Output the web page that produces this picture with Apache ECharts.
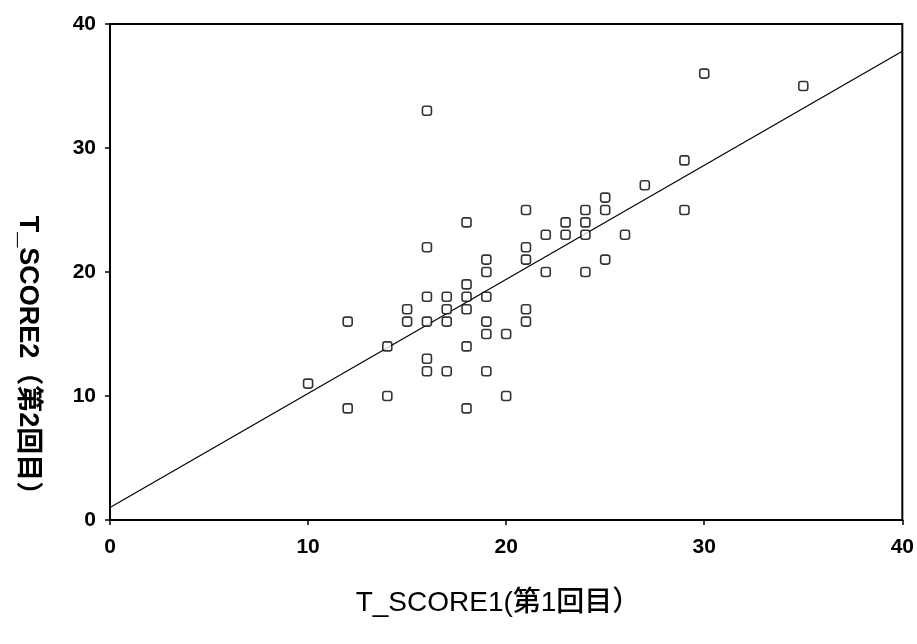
<!DOCTYPE html>
<html>
<head>
<meta charset="utf-8">
<script src="https://cdn.jsdelivr.net/npm/echarts@6/dist/echarts.min.js"></script>
<style>
html,body{margin:0;padding:0;background:#fff;}
#c{width:917px;height:644px;}
</style>
</head>
<body>
<div id="c"></div>
<script>
// Data
const xName = 'T_SCORE1(第1回目）';
const yName = 'T_SCORE2（第2回目）';
const score1 = [10,12,12,14,14,15,15,16,16,16,16,16,16,17,17,17,17,18,18,18,18,18,18,19,19,19,19,19,19,20,20,21,21,21,21,21,22,22,23,23,24,24,24,24,25,25,25,26,27,29,29,30,35];
const score2 = [11,16,9,14,10,17,16,33,22,18,16,13,12,18,17,16,12,24,19,18,17,14,9,21,20,18,16,15,12,15,10,25,22,21,17,16,23,20,24,23,25,24,23,20,26,25,21,23,27,29,25,36,35];
const fitX = [0, 40];
const fitY = [1.0, 37.8];

const points = score1.map((v, i) => [v, score2[i]]);
const fitLine = fitX.map((v, i) => [v, fitY[i]]);

const chart = echarts.init(document.getElementById('c'), null, {renderer: 'canvas'});
const labelStyle = {color: '#000', fontFamily: 'Liberation Sans, Arial, sans-serif', fontSize: 21, fontWeight: 'bold'};
chart.setOption({
  animation: false,
  backgroundColor: '#fff',
  grid: {left: 110, right: 14, top: 24, bottom: 124, show: true, borderColor: '#000', borderWidth: 2, backgroundColor: 'transparent'},
  xAxis: {
    type: 'value', min: 0, max: 40, interval: 10,
    axisLine: {show: true, onZero: false, lineStyle: {color: '#000', width: 2}},
    axisTick: {show: true, length: 5, inside: false, lineStyle: {color: '#000', width: 1.5}},
    splitLine: {show: false},
    axisLabel: Object.assign({margin: 17}, labelStyle)
  },
  yAxis: {
    type: 'value', min: 0, max: 40, interval: 10,
    axisLine: {show: true, onZero: false, lineStyle: {color: '#000', width: 2}},
    axisTick: {show: true, length: 5, lineStyle: {color: '#000', width: 1.5}},
    splitLine: {show: false},
    axisLabel: Object.assign({margin: 14}, labelStyle)
  },
  graphic: [
    {type: 'text', x: 498, y: 603, style: {text: xName, fill: '#000', align: 'center', verticalAlign: 'middle', font: '500 28px "Liberation Sans", "Noto Sans CJK JP", sans-serif'}},
    {type: 'text', x: 27, y: 362, rotation: -Math.PI / 2, style: {text: yName, fill: '#000', align: 'center', verticalAlign: 'middle', font: 'bold 27px "Liberation Sans", "Noto Sans CJK JP", sans-serif'}}
  ],
  series: [
    {
      type: 'line', data: fitLine, symbol: 'none', silent: true,
      lineStyle: {color: '#000', width: 1.2}, z: 2
    },
    {
      type: 'scatter', data: points, symbol: 'roundRect', symbolSize: 9,
      itemStyle: {color: '#fff', borderColor: '#000', borderWidth: 1.6}, z: 3
    }
  ]
});
</script>
</body>
</html>
